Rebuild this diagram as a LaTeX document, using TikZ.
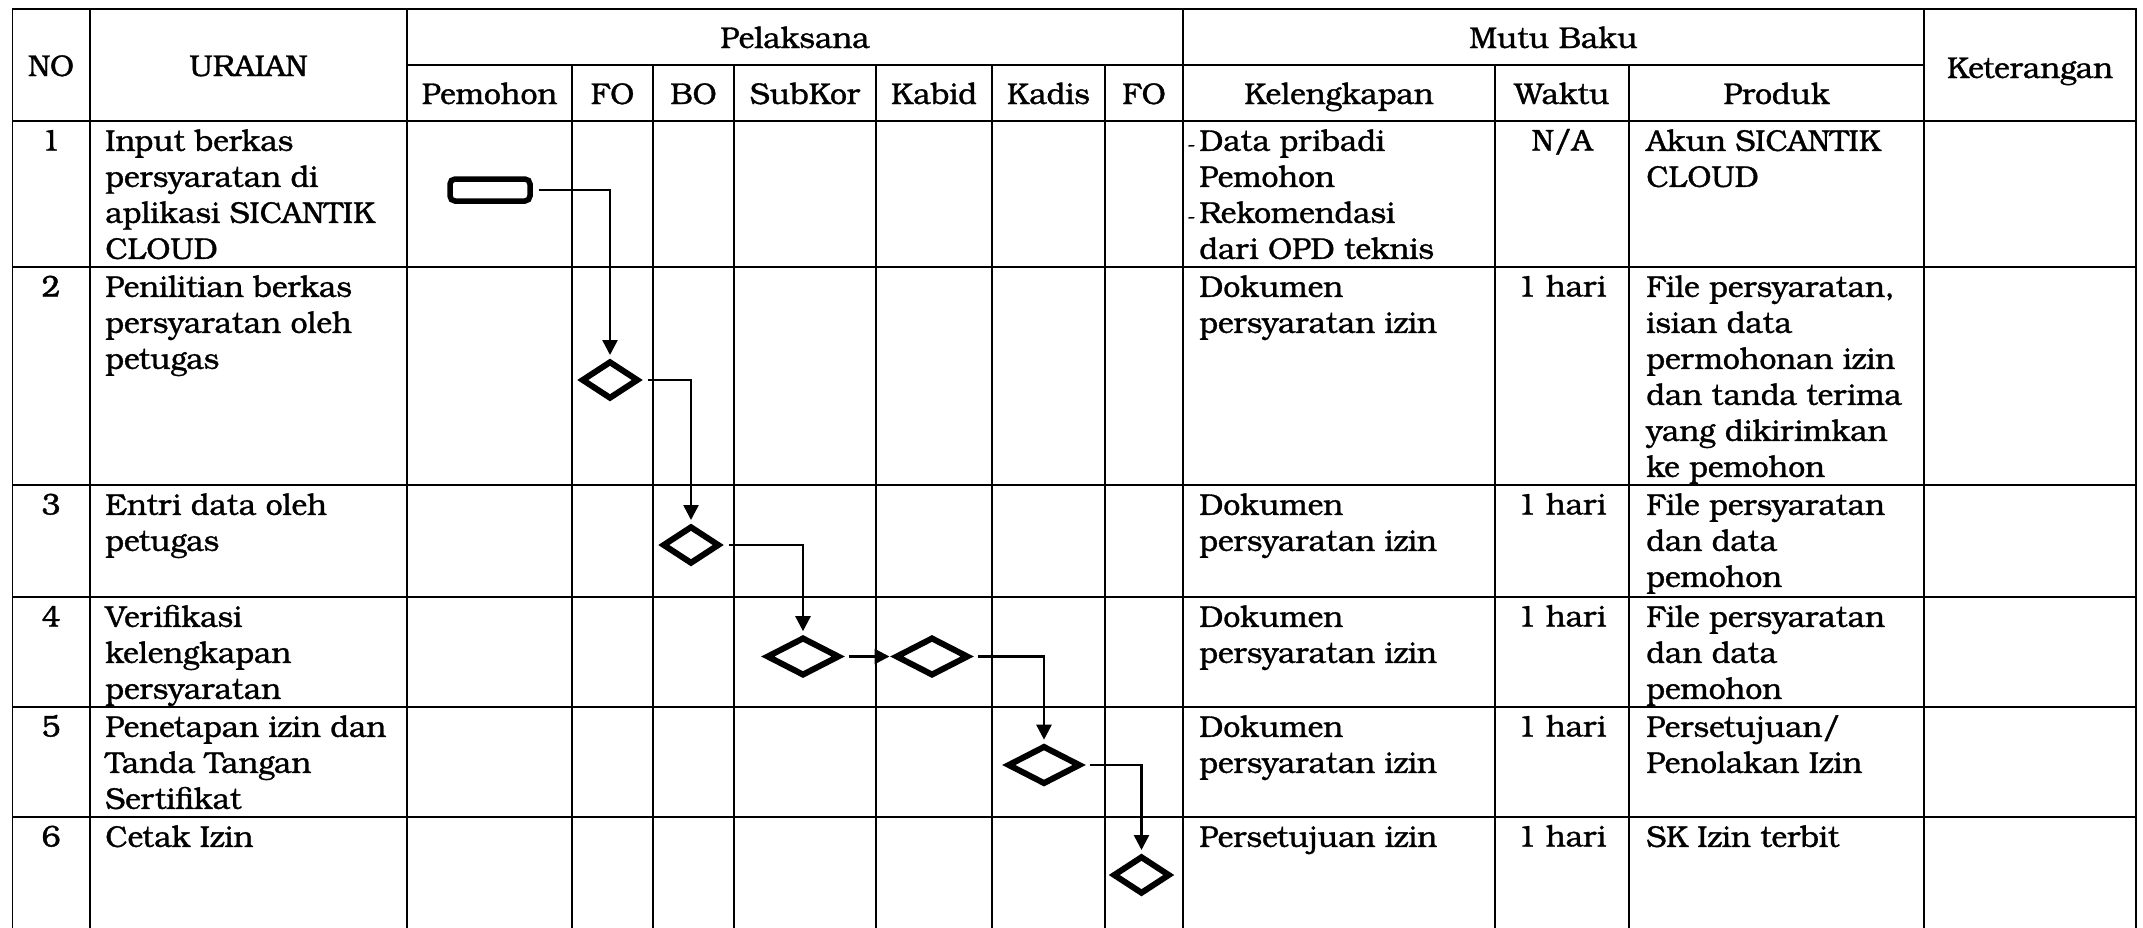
\documentclass[tikz,border=0pt]{standalone}
\usepackage{fontspec}
\setmainfont{TeX Gyre Bonum}[FakeBold=1.1]
\usetikzlibrary{arrows.meta,shapes.geometric,positioning}
\tikzset{
  txt/.style={font=\fontsize{15}{18}\selectfont, inner sep=0pt},
  head/.style={txt, anchor=base},
  cell/.style={txt, anchor=north west, align=left},
  rule/.style={line width=0.8pt, line cap=rect},
  startbox/.style={draw, line width=2.75pt, rounded corners=2.5pt,
    minimum width=40pt, minimum height=11pt, inner sep=0pt},
  stepdiamond/.style={diamond, draw, line width=3pt,
    minimum width=28.5pt, minimum height=19pt, inner sep=0pt},
  widediamond/.style={stepdiamond, minimum width=36.5pt, minimum height=19.3pt},
  arr/.style={-{Triangle[length=7.5pt,width=7.5pt]}, line width=1.25pt,
    shorten <=3pt, shorten >=1.5pt}
}
\newcommand{\dashitem}{\llap{\fontsize{10}{12}\selectfont-\kern2pt}}

\begin{document}
\begin{tikzpicture}[x=0.5pt, y=-0.5pt]
  \useasboundingbox (0,0) rectangle (2143,927);
  % table rules
  \draw[rule] (12.5,9) -- (2136,9);
  \draw[rule] (407,65) -- (1924,65);
  \foreach \y in {121,267,485,597,707,817}
    \draw[rule] (12.5,\y) -- (2136,\y);
  \foreach \x in {12.5,90,407,1183,1924,2136}
    \draw[rule] (\x,9) -- (\x,927);
  \foreach \x in {572,653,734,876,992,1105,1495,1629}
    \draw[rule] (\x,65) -- (\x,927);

  % header
  \node[head] (hNo) at (51,76) {NO};
  \node[head] (hUraian) at (248.5,76) {URAIAN};
  \node[head] (hPelaksana) at (795,48) {Pelaksana};
  \node[head] (hMutu) at (1553.5,48) {Mutu Baku};
  \node[head] (hKet) at (2030,78) {Keterangan};
  \node[head] (sPemohon) at (489.5,104) {Pemohon};
  \node[head] (sFO) at (612.5,104) {FO};
  \node[head] (sBO) at (693.5,104) {BO};
  \node[head] (sSubKor) at (805,104) {SubKor};
  \node[head] (sKabid) at (934,104) {Kabid};
  \node[head] (sKadis) at (1048.5,104) {Kadis};
  \node[head] (sFOb) at (1144,104) {FO};
  \node[head] (sKel) at (1339,104) {Kelengkapan};
  \node[head] (sWaktu) at (1562,104) {Waktu};
  \node[head] (sProduk) at (1776.5,104) {Produk};

  % row 1
  \node[head] (no1) at (51,150.5) {1};
  \node[cell] (ur1) at (105,125.3) {\strut Input berkas\\persyaratan di\\aplikasi SICANTIK\\CLOUD};
  \node[cell] (kel1) at (1199,125.3) {\strut\dashitem Data pribadi\\Pemohon\\\dashitem Rekomendasi\\dari OPD teknis};
  \node[head] (wkt1) at (1562,150.5) {N/A};
  \node[cell] (prd1) at (1646,125.3) {\strut Akun SICANTIK\\CLOUD};
  % row 2
  \node[head] (no2) at (51,296.5) {2};
  \node[cell] (ur2) at (105,271.3) {\strut Penilitian berkas\\persyaratan oleh\\petugas};
  \node[cell] (kel2) at (1199,271.3) {\strut Dokumen\\persyaratan izin};
  \node[head] (wkt2) at (1562,296.5) {1 hari};
  \node[cell] (prd2) at (1646,271.3) {\strut File persyaratan,\\isian data\\permohonan izin\\dan tanda terima\\yang dikirimkan\\ke pemohon};
  % row 3
  \node[head] (no3) at (51,514.5) {3};
  \node[cell] (ur3) at (105,489.3) {\strut Entri data oleh\\petugas};
  \node[cell] (kel3) at (1199,489.3) {\strut Dokumen\\persyaratan izin};
  \node[head] (wkt3) at (1562,514.5) {1 hari};
  \node[cell] (prd3) at (1646,489.3) {\strut File persyaratan\\dan data\\pemohon};
  % row 4
  \node[head] (no4) at (51,626.5) {4};
  \node[cell] (ur4) at (105,601.3) {\strut Verifikasi\\kelengkapan\\persyaratan};
  \node[cell] (kel4) at (1199,601.3) {\strut Dokumen\\persyaratan izin};
  \node[head] (wkt4) at (1562,626.5) {1 hari};
  \node[cell] (prd4) at (1646,601.3) {\strut File persyaratan\\dan data\\pemohon};
  % row 5
  \node[head] (no5) at (51,736.5) {5};
  \node[cell] (ur5) at (105,711.3) {\strut Penetapan izin dan\\Tanda Tangan\\Sertifikat};
  \node[cell] (kel5) at (1199,711.3) {\strut Dokumen\\persyaratan izin};
  \node[head] (wkt5) at (1562,736.5) {1 hari};
  \node[cell] (prd5) at (1646,711.3) {\strut Persetujuan/\\Penolakan Izin};
  % row 6
  \node[head] (no6) at (51,846.5) {6};
  \node[cell] (ur6) at (105,821.3) {\strut Cetak Izin};
  \node[cell] (kel6) at (1199,821.3) {\strut Persetujuan izin};
  \node[head] (wkt6) at (1562,846.5) {1 hari};
  \node[cell] (prd6) at (1646,821.3) {\strut SK Izin terbit};

  % flow
  \node[startbox] (start) at (490,190) {};
  \node[stepdiamond] (cek) at (610,380) {};
  \node[stepdiamond] (entri) at (691,545) {};
  \node[widediamond] (verSub) at (803,656.5) {};
  \node[widediamond] (verKab) at (932,656.5) {};
  \node[widediamond] (tetap) at (1044,765) {};
  \node[stepdiamond] (cetak) at (1141.5,875) {};
  \draw[arr] (start.east) -| (cek.north);
  \draw[arr] (cek.east) -| (entri.north);
  \draw[arr] (entri.east) -| (verSub.north);
  \draw[arr] (verSub.east) -- (verKab.west);
  \draw[arr] (verKab.east) -| (tetap.north);
  \draw[arr] (tetap.east) -| (cetak.north);
\end{tikzpicture}
\end{document}
